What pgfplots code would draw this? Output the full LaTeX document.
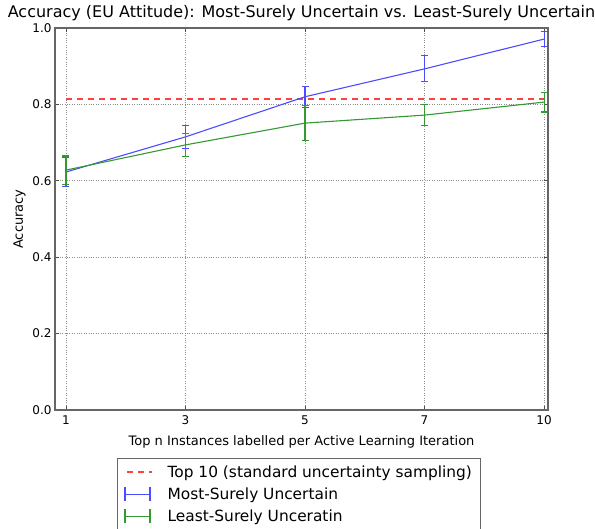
\documentclass[border=0pt]{standalone}
\usepackage{fontspec}
\setmainfont{DejaVu Sans}
\usepackage{pgfplots}
\usepackage{pgfplotstable}
\pgfplotsset{compat=1.18}

\definecolor{mplblue}{rgb}{0.3,0.3,1}
\definecolor{mplgreen}{rgb}{0.2,0.6,0.2}
\definecolor{mplred}{rgb}{1,0.25,0.25}

% accuracy per setting (x = 0..4 for n = 1,3,5,7,10)
\pgfplotstableread{
x   y      err
0   0.623  0.038
1   0.715  0.030
2   0.820  0.028
3   0.893  0.034
4   0.971  0.020
}\mostsure
\pgfplotstableread{
x   y      err
0   0.628  0.037
1   0.694  0.030
2   0.751  0.045
3   0.772  0.027
4   0.806  0.026
}\leastsure

\begin{document}
\begin{tikzpicture}
\useasboundingbox (0,0) rectangle (595pt,528pt);
\begin{axis}[
  at={(55pt,118pt)}, anchor=south west,
  scale only axis, width=493pt, height=382pt,
  xmin=-0.092, xmax=4.033, ymin=0, ymax=1,
  xtick={0,1,2,3,4}, xticklabels={1,3,5,7,10},
  ytick={0,0.2,0.4,0.6,0.8,1.0},
  yticklabel style={/pgf/number format/.cd,fixed,fixed zerofill,precision=1},
  xticklabel style={yshift=-2pt},
  /pgf/number format/assume math mode=true,
  tick align=inside, tick pos=both,
  major tick length=4pt,
  tick style={draw=black!70, line width=0.6pt},
  ticklabel style={font=\fontsize{12}{14}\selectfont},
  grid=major,
  major grid style={draw=black!45, dotted, line width=0.6pt},
  axis line style={draw=black!60, line width=1.1pt},
  title={Accuracy (EU Attitude): Most-Surely Uncertain vs. Least-Surely Uncertain},
  title style={font=\fontsize{16}{18}\selectfont, yshift=-2pt},
  xlabel={Top n Instances labelled per Active Learning Iteration},
  ylabel={Accuracy},
  label style={font=\fontsize{13}{15}\selectfont},
  xlabel style={yshift=-4pt},
  legend style={at={(0.1258,-0.1257)}, anchor=north west,
    draw=black!60, line width=0.8pt, fill=white,
    font=\fontsize{15.4}{18}\selectfont,
    row sep=5pt, inner xsep=7pt, inner ysep=5pt,
    /tikz/every odd column/.append style={column sep=13pt}},
  legend cell align=left,
]
% reference level of plain top-10 uncertainty sampling
\addplot[mplred, line width=1.3pt, dash pattern=on 6pt off 5pt,
  legend image code/.code={\draw[mplred, line width=1.2pt, dash pattern=on 6pt off 5pt] (2pt,0pt) -- (27pt,0pt);}]
  coordinates {(0,0.814) (4,0.814)};
\addlegendentry{Top 10 (standard uncertainty sampling)}

\addplot[mplblue, line width=1.1pt,
  legend image code/.code={
    \draw[mplblue, line width=1.2pt] (0pt,0pt) -- (25pt,0pt);
    \draw[mplblue, line width=1.2pt] (0pt,-7pt) -- (0pt,7pt);
    \draw[mplblue, line width=1.2pt] (25pt,-7pt) -- (25pt,7pt);},
  error bars/.cd, y dir=both, y explicit,
  error bar style={mplblue, line width=1.1pt},
  error mark options={rotate=90, mark size=3.5pt, mplblue, line width=1.1pt}]
  table[x=x, y=y, y error=err] {\mostsure};
\addlegendentry{Most-Surely Uncertain}

\addplot[mplgreen, line width=1.1pt,
  legend image code/.code={
    \draw[mplgreen, line width=1.2pt] (0pt,0pt) -- (25pt,0pt);
    \draw[mplgreen, line width=1.2pt] (0pt,-7pt) -- (0pt,7pt);
    \draw[mplgreen, line width=1.2pt] (25pt,-7pt) -- (25pt,7pt);},
  error bars/.cd, y dir=both, y explicit,
  error bar style={mplgreen, line width=1.1pt},
  error mark options={rotate=90, mark size=3.5pt, mplgreen, line width=1.1pt}]
  table[x=x, y=y, y error=err] {\leastsure};
\addlegendentry{Least-Surely Unceratin}
\end{axis}
\end{tikzpicture}
\end{document}
